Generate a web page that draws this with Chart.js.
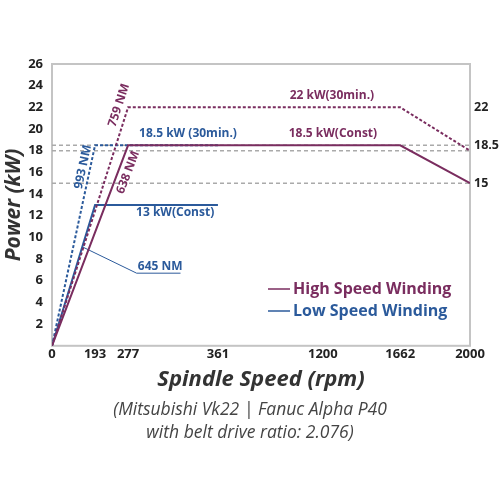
<!DOCTYPE html>
<html>
<head>
<meta charset="utf-8">
<script src="https://cdn.jsdelivr.net/npm/chart.js@4"></script>
<style>
    html, body { margin: 0; padding: 0; background: #fff; }
</style>
</head>
<body>
<canvas id="powerChart" width="500" height="500"></canvas>
<script>
// spindle speed ticks (rpm) and the right-side rated power marks (kW)
const speedTicks = [0, 193, 277, 361, 1200, 1662, 2000];
const ratedTicks = [15, 18.5, 22];

// high speed winding
const highRpm = [0, 277, 1662, 2000];
const highCont = [0, 18.5, 18.5, 15];
const high30 = [0, 22, 22, 18];

// low speed winding
const lowRpm = [0, 193, 361];
const lowCont = [0, 13, 13];
const low30 = [0, 18.5, 18.5];

// gray reference levels
const refRpm = [0, 2000];
const refLevels = [18.5, 18, 15];

// leader line for the 645 NM note
const leaderRpm = [139, 285, 326];
const leaderKw = [9.1, 6.7, 6.7];

// notes
const noteTexts = ['22 kW(30min.)', '18.5 kW(Const)', '18.5 kW (30min.)', '13 kW(Const)', '645 NM', '759 NM', '993 NM', '638 NM'];
const noteRpm = [1254, 1260, 333, 321, 307, 254, 139, 277];
const noteKw = [23.1, 19.6, 19.6, 12.3, 7.3, 22.2, 16.5, 16.0];
const noteSeries = ['high', 'high', 'low', 'low', 'low', 'high', 'low', 'high'];

const PURPLE = '#7a2d5f';
const BLUE = '#2b5a9b';
const FONT = "'Open Sans', 'DejaVu Sans', sans-serif";

let pts = function (xs, ys) {
    return xs.map(function (x, i) { return {x: x, y: ys[i]}; });
};

// x axis is drawn schematic: each tick sits at a fixed share of the width
class WarpScale extends Chart.LinearScale {
    getPixelForValue(value) {
        let stops = speedTicks, spots = this.options.spots;
        let i = 1;
        while (i < stops.length - 1 && value > stops[i]) i++;
        let t = spots[i - 1] + (value - stops[i - 1]) / (stops[i] - stops[i - 1]) * (spots[i] - spots[i - 1]);
        return this.getPixelForDecimal(t);
    }
    getValueForPixel(pixel) {
        let stops = speedTicks, spots = this.options.spots;
        let d = this.getDecimalForPixel(pixel);
        let i = 1;
        while (i < spots.length - 1 && d > spots[i]) i++;
        return stops[i - 1] + (d - spots[i - 1]) / (spots[i] - spots[i - 1]) * (stops[i] - stops[i - 1]);
    }
}
WarpScale.id = 'warp';
WarpScale.defaults = Chart.LinearScale.defaults;
Chart.register(WarpScale);

let datasets = [
    {label: 'High Speed Winding', data: pts(highRpm, highCont), borderColor: PURPLE, borderWidth: 2},
    {label: 'high30', data: pts(highRpm, high30), borderColor: PURPLE, borderWidth: 2, borderDash: [3, 2]},
    {label: 'Low Speed Winding', data: pts(lowRpm, lowCont), borderColor: BLUE, borderWidth: 2},
    {label: 'low30', data: pts(lowRpm, low30), borderColor: BLUE, borderWidth: 2, borderDash: [3, 2]},
    {label: 'leader', data: pts(leaderRpm, leaderKw), borderColor: BLUE, borderWidth: 1}
];
refLevels.forEach(function (lvl) {
    datasets.push({
        label: 'ref', data: pts(refRpm, [lvl, lvl]),
        borderColor: '#aaaaaa', borderWidth: 1.5, borderDash: [4, 3]
    });
});

const framePlugin = {
    id: 'frame',
    beforeDatasetsDraw(chart) {
        let a = chart.chartArea, ctx = chart.ctx;
        ctx.save();
        ctx.strokeStyle = '#c4c4c4';
        ctx.lineWidth = 2;
        ctx.strokeRect(a.left, a.top, a.right - a.left, a.bottom - a.top);
        ctx.restore();
    }
};

const notesPlugin = {
    id: 'notes',
    afterDatasetsDraw(chart) {
        let ctx = chart.ctx, xs = chart.scales.x, ys = chart.scales.y;
        ctx.save();
        ctx.font = 'bold 12px ' + FONT;
        ctx.textAlign = 'center';
        ctx.textBaseline = 'middle';
        noteTexts.forEach(function (txt, i) {
            let px = xs.getPixelForValue(noteRpm[i]);
            let py = ys.getPixelForValue(noteKw[i]);
            ctx.fillStyle = noteSeries[i] === 'high' ? PURPLE : BLUE;
            if (txt.indexOf('NM') > 0 && txt !== '645 NM') {
                // rotate along the torque line
                let angle = {'759 NM': -72, '993 NM': -78, '638 NM': -69}[txt];
                ctx.save();
                ctx.translate(px, py);
                ctx.rotate(angle * Math.PI / 180);
                ctx.fillText(txt, 0, 0);
                ctx.restore();
            } else {
                ctx.fillText(txt, px, py);
            }
        });

        // legend inside the plot
        let a = chart.chartArea;
        let entries = [[datasets[0].label, PURPLE], [datasets[2].label, BLUE]];
        ctx.font = 'bold 16px ' + FONT;
        ctx.textAlign = 'left';
        entries.forEach(function (e, i) {
            let y = a.top + 225 + i * 22;
            ctx.strokeStyle = e[1];
            ctx.lineWidth = 1.5;
            ctx.beginPath();
            ctx.moveTo(a.right - 202, y);
            ctx.lineTo(a.right - 180, y);
            ctx.stroke();
            ctx.fillStyle = e[1];
            ctx.fillText(e[0], a.right - 177, y);
        });
        ctx.restore();
    }
};

let ctx = document.getElementById('powerChart').getContext('2d');
let powerChart = new Chart(ctx, {
    type: 'line',
    data: {datasets: datasets},
    plugins: [framePlugin, notesPlugin],
    options: {
        responsive: false,
        animation: false,
        elements: {point: {radius: 0}, line: {tension: 0}},
        layout: {padding: {top: 64, left: 0, right: 0, bottom: 55}},
        plugins: {
            legend: {display: false},
            tooltip: {enabled: false},
            title: {
                display: true,
                position: 'bottom',
                text: ['(Mitsubishi Vk22 | Fanuc Alpha P40', 'with belt drive ratio: 2.076)'],
                color: '#444',
                font: {family: FONT, size: 17.5, style: 'italic', weight: 'normal', lineHeight: 1.32},
                padding: {top: 3, bottom: 0}
            }
        },
        scales: {
            x: {
                type: 'warp',
                min: 0,
                max: 2000,
                spots: [0, 0.103, 0.182, 0.397, 0.648, 0.833, 1],
                afterBuildTicks: function (axis) {
                    axis.ticks = speedTicks.map(function (v) { return {value: v}; });
                },
                afterFit: function (axis) { axis.height = 50; },
                grid: {display: false, drawTicks: false},
                border: {display: false},
                ticks: {
                    autoSkip: false,
                    maxRotation: 0,
                    padding: 1,
                    color: '#222',
                    font: {family: FONT, size: 13, weight: 'bold'},
                    callback: function (v) { return String(v); }
                },
                title: {
                    display: true,
                    text: 'Spindle Speed (rpm)',
                    color: '#333',
                    font: {family: FONT, size: 22, style: 'italic', weight: 'bold', lineHeight: 1.2},
                    padding: {top: 0, bottom: 3}
                }
            },
            y: {
                min: 0,
                max: 26,
                afterFit: function (axis) { axis.width = 52; },
                grid: {display: false, drawTicks: false},
                border: {display: false},
                ticks: {
                    stepSize: 2,
                    padding: 9,
                    color: '#222',
                    font: {family: FONT, size: 13, weight: 'bold'},
                    callback: function (v) { return v === 0 ? '' : String(v); }
                },
                title: {
                    display: true,
                    text: 'Power (kW)',
                    color: '#333',
                    font: {family: FONT, size: 21, style: 'italic', weight: 'bold', lineHeight: 1.2},
                    padding: {top: 1, bottom: 0}
                }
            },
            y2: {
                position: 'right',
                min: 0,
                max: 26,
                afterBuildTicks: function (axis) {
                    axis.ticks = ratedTicks.map(function (v) { return {value: v}; });
                },
                afterFit: function (axis) { axis.width = 30; },
                grid: {display: false, drawTicks: false},
                border: {display: false},
                ticks: {
                    padding: 4,
                    color: '#222',
                    font: {family: FONT, size: 12.5, weight: 'bold'},
                    callback: function (v) { return String(v); }
                }
            }
        }
    }
});
</script>
</body>
</html>
